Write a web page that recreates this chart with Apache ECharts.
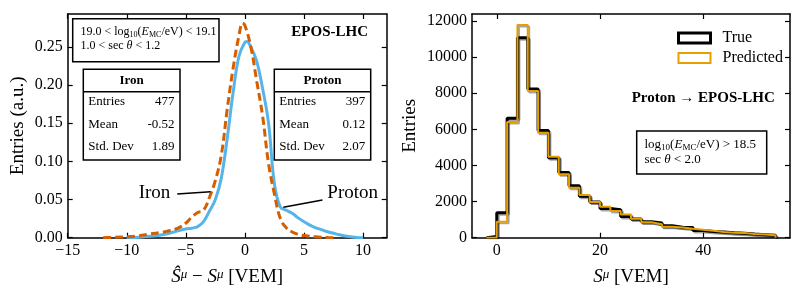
<!DOCTYPE html>
<html><head><meta charset="utf-8">
<script src="https://cdn.jsdelivr.net/npm/echarts@6/dist/echarts.min.js"></script>
<style>html,body{margin:0;padding:0;background:#fff}#c{width:804px;height:300px}</style>
</head><body><div id="c"></div>
<script>
// ---- Left panel: smoothed distributions of (S^mu_hat - S^mu) ----
const ironX = [-12, -11.5, -11, -10, -9, -8, -7, -6.5, -6, -5.5, -5, -4.5, -4, -3.5, -3, -2.5, -2, -1.5, -1, -0.5, -0.2, 0, 0.5, 1, 1.5, 2, 2.5, 3, 3.5, 4, 4.5, 5, 5.5, 6, 6.5, 7, 7.5];
const ironY = [0, 0.0003, 0.0006, 0.0012, 0.0025, 0.005, 0.0072, 0.0088, 0.0105, 0.0138, 0.019, 0.027, 0.033, 0.036, 0.053, 0.075, 0.108, 0.168, 0.222, 0.265, 0.281, 0.278, 0.25, 0.205, 0.159, 0.097, 0.057, 0.025, 0.013, 0.0075, 0.0045, 0.0028, 0.0018, 0.0011, 0.0006, 0.0002, 0];
const protonX = [-10, -9.5, -9, -8, -7, -6, -5.5, -5, -4.5, -4, -3.5, -3, -2.5, -2, -1.5, -1, -0.5, 0, 0.15, 0.5, 1, 1.5, 2, 2.5, 3, 3.5, 4, 4.5, 5, 5.5, 6, 6.5, 7, 7.5, 8, 8.5, 9, 9.5, 10];
const protonY = [0, 0.0002, 0.0006, 0.0018, 0.0038, 0.0075, 0.0098, 0.0115, 0.0125, 0.0145, 0.021, 0.035, 0.05, 0.078, 0.13, 0.19, 0.238, 0.256, 0.257, 0.25, 0.231, 0.195, 0.15, 0.07, 0.040, 0.036, 0.032, 0.026, 0.021, 0.0165, 0.013, 0.0105, 0.0078, 0.0058, 0.0038, 0.0022, 0.0012, 0.0004, 0];
const kdeXTicks = [-15, -10, -5, 0, 5, 10];
const kdeYTicks = [0, 0.05, 0.10, 0.15, 0.20, 0.25];
const statRows = ['Entries', 'Mean', 'Std. Dev'];
const ironStats = ['477', '-0.52', '1.89'];
const protonStats = ['397', '0.12', '2.07'];

// ---- Right panel: histogram of S^mu ----
const binEdges = [-2, 0, 2, 4, 6, 8, 10, 12, 14, 16, 18, 20, 22, 24, 26, 28, 30, 32, 34, 36, 38, 40, 42, 44, 46, 48, 50, 52, 54];
const trueCounts = [60, 1380, 6620, 11080, 8240, 5940, 4425, 3615, 2875, 2300, 1980, 1620, 1550, 1180, 1040, 880, 810, 660, 580, 560, 400, 350, 320, 275, 240, 200, 170, 130];
const predCounts = [10, 885, 6415, 11780, 8130, 5810, 4480, 3520, 2765, 2360, 1980, 1720, 1480, 1290, 1050, 850, 750, 610, 570, 500, 440, 390, 310, 280, 260, 210, 180, 140];
const histXTicks = [0, 20, 40];
const histYTicks = [0, 2000, 4000, 6000, 8000, 10000, 12000];

const FONT = 'Liberation Serif';
const zip = (a, b) => a.map((v, i) => [v, b[i]]);
function stepData(edges, counts) {
  const d = [[edges[0], 0]];
  counts.forEach((c, i) => d.push([edges[i], c]));
  d.push([edges[edges.length - 1], counts[counts.length - 1]]);
  d.push([edges[edges.length - 1], 0]);
  return d;
}
const minus = v => (v < 0 ? '\u2212' + Math.abs(v) : String(v));

function axisBase(extra) {
  return Object.assign({
    type: 'value', splitLine: { show: false },
    axisLine: { show: true, onZero: false, lineStyle: { color: '#000', width: 1.5 } },
    axisTick: { show: true, inside: true, length: 5, lineStyle: { color: '#000', width: 1.2 } },
    axisLabel: { show: true, color: '#000', fontFamily: FONT, fontSize: 16, margin: 5 }
  }, extra);
}
function withTicks(ax, ticks, showLabel, fmt) {
  ax.axisTick.customValues = ticks;
  if (showLabel) { ax.axisLabel.customValues = ticks; ax.axisLabel.formatter = fmt || (v => String(v)); }
  else ax.axisLabel = { show: false };
  return ax;
}
const nameStyle = { color: '#000', fontFamily: FONT, fontSize: 19,
  rich: {
    n: { fontFamily: FONT, fontSize: 19, color: '#000' },
    i: { fontFamily: FONT, fontSize: 19, fontStyle: 'italic', color: '#000' },
    sup: { fontFamily: FONT, fontSize: 13, fontStyle: 'italic', color: '#000', verticalAlign: 'top', lineHeight: 12 }
  } };

const xAxis = [
  withTicks(axisBase({ gridIndex: 0, min: -15, max: 12, name: '{i|\u015C}{sup|\u03BC}{n| \u2212 }{i|S}{sup|\u03BC}{n| [VEM]}', nameLocation: 'middle', nameGap: 30, nameTextStyle: nameStyle }), kdeXTicks, true, minus),
  withTicks(axisBase({ gridIndex: 0, min: -15, max: 12, position: 'top' }), kdeXTicks, false),
  withTicks(axisBase({ gridIndex: 1, min: -4.8, max: 56.8, name: '{i|S}{sup|\u03BC}{n| [VEM]}', nameLocation: 'middle', nameGap: 30, nameTextStyle: nameStyle }), histXTicks, true, minus),
  withTicks(axisBase({ gridIndex: 1, min: -4.8, max: 56.8, position: 'top' }), histXTicks, false)
];
const yAxis = [
  withTicks(axisBase({ gridIndex: 0, min: 0, max: 0.293, name: 'Entries (a.u.)', nameLocation: 'middle', nameGap: 40, nameTextStyle: nameStyle }), kdeYTicks, true, v => v.toFixed(2)),
  withTicks(axisBase({ gridIndex: 0, min: 0, max: 0.293, position: 'right' }), kdeYTicks, false),
  withTicks(axisBase({ gridIndex: 1, min: 0, max: 12390, name: 'Entries', nameLocation: 'middle', nameGap: 52, nameTextStyle: nameStyle }), histYTicks, true),
  withTicks(axisBase({ gridIndex: 1, min: 0, max: 12390, position: 'right' }), histYTicks, false)
];

const labelFont = { fontFamily: FONT, fontSize: 19, color: '#000' };
const series = [
  { type: 'line', name: 'Proton', xAxisIndex: 0, yAxisIndex: 0, data: zip(protonX, protonY), smooth: 0.4,
    showSymbol: false, symbol: 'none', lineStyle: { color: '#56B4E9', width: 3 }, z: 3,
    markLine: { silent: true, symbol: 'none', lineStyle: { color: '#000', width: 1.5, type: 'solid' }, label: { show: false },
      data: [[{ coord: [6.56, 0.0494] }, { coord: [3.25, 0.0398] }]] },
    markPoint: { silent: true, symbol: 'circle', symbolSize: 0,
      data: [{ coord: [9.12, 0.0585], label: Object.assign({ show: true, position: 'inside', formatter: 'Proton' }, labelFont) }] } },
  { type: 'line', name: 'Iron', xAxisIndex: 0, yAxisIndex: 0, data: zip(ironX, ironY), smooth: 0.4,
    showSymbol: false, symbol: 'none', lineStyle: { color: '#D55E00', width: 3, type: [8, 4] }, z: 4,
    markLine: { silent: true, symbol: 'none', lineStyle: { color: '#000', width: 1.5, type: 'solid' }, label: { show: false },
      data: [[{ coord: [-5.73, 0.0572] }, { coord: [-2.91, 0.0602] }]] },
    markPoint: { silent: true, symbol: 'circle', symbolSize: 0,
      data: [{ coord: [-7.65, 0.0585], label: Object.assign({ show: true, position: 'inside', formatter: 'Iron' }, labelFont) }] } },
  { type: 'line', name: 'True', xAxisIndex: 2, yAxisIndex: 2, data: stepData(binEdges, trueCounts), step: 'end',
    showSymbol: false, symbol: 'none', z: 3,
    lineStyle: { color: '#000', width: 3, shadowColor: 'rgba(0,0,0,0.35)', shadowBlur: 0, shadowOffsetX: 1.5, shadowOffsetY: 1.5 } },
  { type: 'line', name: 'Predicted', xAxisIndex: 2, yAxisIndex: 2, data: stepData(binEdges, predCounts), step: 'end',
    showSymbol: false, symbol: 'none', z: 4,
    lineStyle: { color: '#E69F00', width: 2, shadowColor: 'rgba(0,0,0,0.35)', shadowBlur: 0, shadowOffsetX: 1.5, shadowOffsetY: 1.5 } }
];

// annotation helpers
const g = [];
function rect(x, y, w, h) { g.push({ type: 'rect', z: 100, shape: { x, y, width: w, height: h }, style: { fill: '#fff', stroke: '#000', lineWidth: 1.5 } }); }
function hline(x1, x2, y) { g.push({ type: 'line', z: 101, shape: { x1, y1: y, x2, y2: y }, style: { stroke: '#000', lineWidth: 1.5 } }); }
function txt(x, y, text, opts) {
  g.push({ type: 'text', z: 102, x, y, style: Object.assign({ text, fill: '#000', fontFamily: FONT, fontSize: 13, textAlign: 'left', textVerticalAlign: 'middle' }, opts || {}) });
}
const boxRich = (fs) => ({
  n: { fontFamily: FONT, fontSize: fs, color: '#000', lineHeight: fs + 2 },
  i: { fontFamily: FONT, fontSize: fs, fontStyle: 'italic', color: '#000', lineHeight: fs + 2 },
  s: { fontFamily: FONT, fontSize: Math.round(fs * 0.7), color: '#000', lineHeight: Math.round(fs * 0.7), verticalAlign: 'bottom' }
});
// top-left cut box
rect(72.7, 18.7, 146.3, 43);
txt(80.5, 32, '{n|19.0 < log}{s|10}{n|(}{i|E}{s|MC}{n|/eV) < 19.1}', { rich: boxRich(12) });
txt(80.5, 46, '{n|1.0 < sec }{i|\u03B8}{n| < 1.2}', { rich: boxRich(12) });
txt(368, 32, 'EPOS-LHC', { fontWeight: 'bold', fontSize: 15, textAlign: 'right' });
// stats boxes
function statBox(x, w, title, vals) {
  rect(x, 69.3, w, 90.7);
  hline(x, x + w, 91.7);
  txt(x + w / 2, 80.8, title, { fontWeight: 'bold', textAlign: 'center' });
  const ys = [102, 124.7, 147];
  statRows.forEach((r, i) => {
    txt(x + 5, ys[i], r);
    txt(x + w - 5.5, ys[i], vals[i], { textAlign: 'right' });
  });
}
statBox(83.3, 96.7, 'Iron', ironStats);
statBox(274.3, 96.4, 'Proton', protonStats);
// right panel annotations
txt(631.7, 98, 'Proton \u2192 EPOS-LHC', { fontWeight: 'bold', fontSize: 15 });
rect(636.7, 131, 130, 43);
txt(644.5, 145, '{n|log}{s|10}{n|(}{i|E}{s|MC}{n|/eV) > 18.5}', { rich: boxRich(13) });
txt(644.5, 160, '{n|sec }{i|\u03B8}{n| < 2.0}', { rich: boxRich(13) });

const chart = echarts.init(document.getElementById('c'), null, { renderer: 'canvas' });
chart.setOption({
  animation: false,
  backgroundColor: '#fff',
  grid: [
    { left: 67.7, right: 417.3, top: 14, bottom: 62.3 },
    { left: 472, right: 14, top: 14, bottom: 62.3 }
  ],
  xAxis, yAxis, series,
  legend: {
    orient: 'vertical', left: 672, top: 25, itemWidth: 32, itemHeight: 10, itemGap: 4,
    textStyle: { fontFamily: FONT, fontSize: 16, color: '#000', padding: [0, 0, 0, 7] },
    data: [
      { name: 'True', icon: 'rect', itemStyle: { color: 'rgba(0,0,0,0)', borderColor: '#000', borderWidth: 3 } },
      { name: 'Predicted', icon: 'rect', itemStyle: { color: 'rgba(0,0,0,0)', borderColor: '#E69F00', borderWidth: 2 } }
    ]
  },
  graphic: g
});
</script></body></html>
